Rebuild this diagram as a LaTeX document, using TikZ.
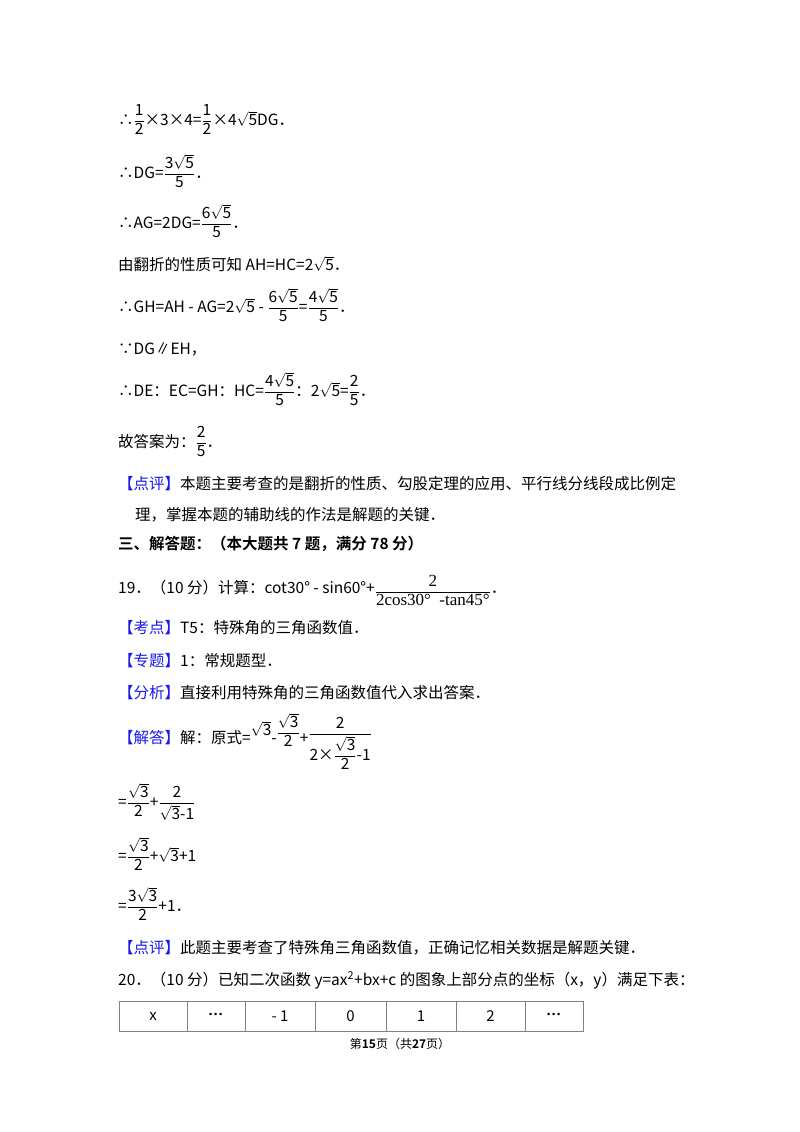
\documentclass[tikz,border=0pt]{standalone}
\usepackage{amsmath}
\usepackage{fontspec}
\setmainfont{Noto Sans CJK SC}[BoldFont={Noto Sans CJK SC Bold}]
\newfontfamily\serifnum{Liberation Serif}
\newfontfamily\dotfont{Liberation Sans}
\definecolor{tagblue}{RGB}{25,25,235}
\newcommand{\rt}[1]{$\sqrt{\mbox{#1}}$}
\newcommand{\fr}[2]{$\dfrac{\mbox{#1}}{\mbox{#2}}$}
\newcommand{\hd}[1]{\textcolor{tagblue}{【#1】}}
\newcommand{\dts}{{\dotfont\bfseries ···}}

\begin{document}
\begin{tikzpicture}[x=1pt, y=-1pt,
  line/.style={anchor=base west, inner sep=0pt, font=\fontsize{15.5}{18}\selectfont},
  cell/.style={inner sep=0pt, font=\fontsize{15}{18}\selectfont},
  cellline/.style={draw=black!50, line width=0.7pt}]
\useasboundingbox[fill=white] (0,0) rectangle (800,1132);

\node[line] (l1)  at (118,125) {∴\fr{1}{2}×3×4=\fr{1}{2}×4\rt{5}DG．};
\node[line] (l2)  at (118,178) {∴DG=\fr{3\rt{5}}{5}．};
\node[line] (l3)  at (118,228) {∴AG=2DG=\fr{6\rt{5}}{5}．};
\node[line] (l4)  at (118,270) {由翻折的性质可知 AH=HC=2\rt{5}．};
\node[line] (l5)  at (118,312) {∴GH=AH - AG=2\rt{5} - \fr{6\rt{5}}{5}=\fr{4\rt{5}}{5}．};
\node[line] (l6)  at (118,354) {∵DG∥EH，};
\node[line] (l7)  at (118,396) {∴DE：EC=GH：HC=\fr{4\rt{5}}{5}：2\rt{5}=\fr{2}{5}．};
\node[line] (l8)  at (118,447) {故答案为：\fr{2}{5}．};
\node[line] (l9)  at (118,489) {\hd{点评}本题主要考查的是翻折的性质、勾股定理的应用、平行线分线段成比例定};
\node[line] (l10) at (135,520) {理，掌握本题的辅助线的作法是解题的关键．};
\node[line] (l11) at (118,549) {\textbf{三、解答题：（本大题共 7 题，满分 78 分）}};
\node[line] (l12) at (118,593) {19．（10 分）计算：cot30° - sin60°+\raisebox{-3pt}{\fr{\fontsize{17}{18}\serifnum 2}{\fontsize{17}{18}\serifnum 2cos30°\ \ -tan45°}}．};
\node[line] (l13) at (118,633) {\hd{考点}T5：特殊角的三角函数值．};
\node[line] (l14) at (118,666) {\hd{专题}1：常规题型．};
\node[line] (l15) at (118,698) {\hd{分析}直接利用特殊角的三角函数值代入求出答案．};
\node[line] (l16) at (118,743) {\hd{解答}解：原式=\raisebox{8pt}{\rt{3}}-\raisebox{6pt}{\fr{\rt{3}}{2}}+\raisebox{5pt}{\fr{2}{2×\fr{\rt{3}}{2}-1}}};
\node[line] (l17) at (118,807) {=\fr{\rt{3}}{2}+\fr{2}{\rt{3}-1}};
\node[line] (l18) at (118,861) {=\fr{\rt{3}}{2}+\rt{3}+1};
\node[line] (l19) at (118,911) {=\fr{3\rt{3}}{2}+1．};
\node[line] (l20) at (118,953) {\hd{点评}此题主要考查了特殊角三角函数值，正确记忆相关数据是解题关键．};
\node[line] (l21) at (118,985) {20．（10 分）已知二次函数 y=ax\textsuperscript{2}+bx+c 的图象上部分点的坐标（x，y）满足下表：};

\foreach \xa/\xb/\t [count=\i] in {119/187/x, 187/245/\dts, 245/315/- 1, 315/386/0, 386/456/1, 456/525/2, 525/583/\dts}
{
  \draw[cellline] (\xa,1001) rectangle (\xb,1031);
  \node[cell] (c\i) at ({(\xa+\xb)/2},1016) {\t};
}

\node[font=\fontsize{12}{14}\selectfont] (foot) at (400,1044) {第\textbf{15}页（共\textbf{27}页）};
\end{tikzpicture}
\end{document}
